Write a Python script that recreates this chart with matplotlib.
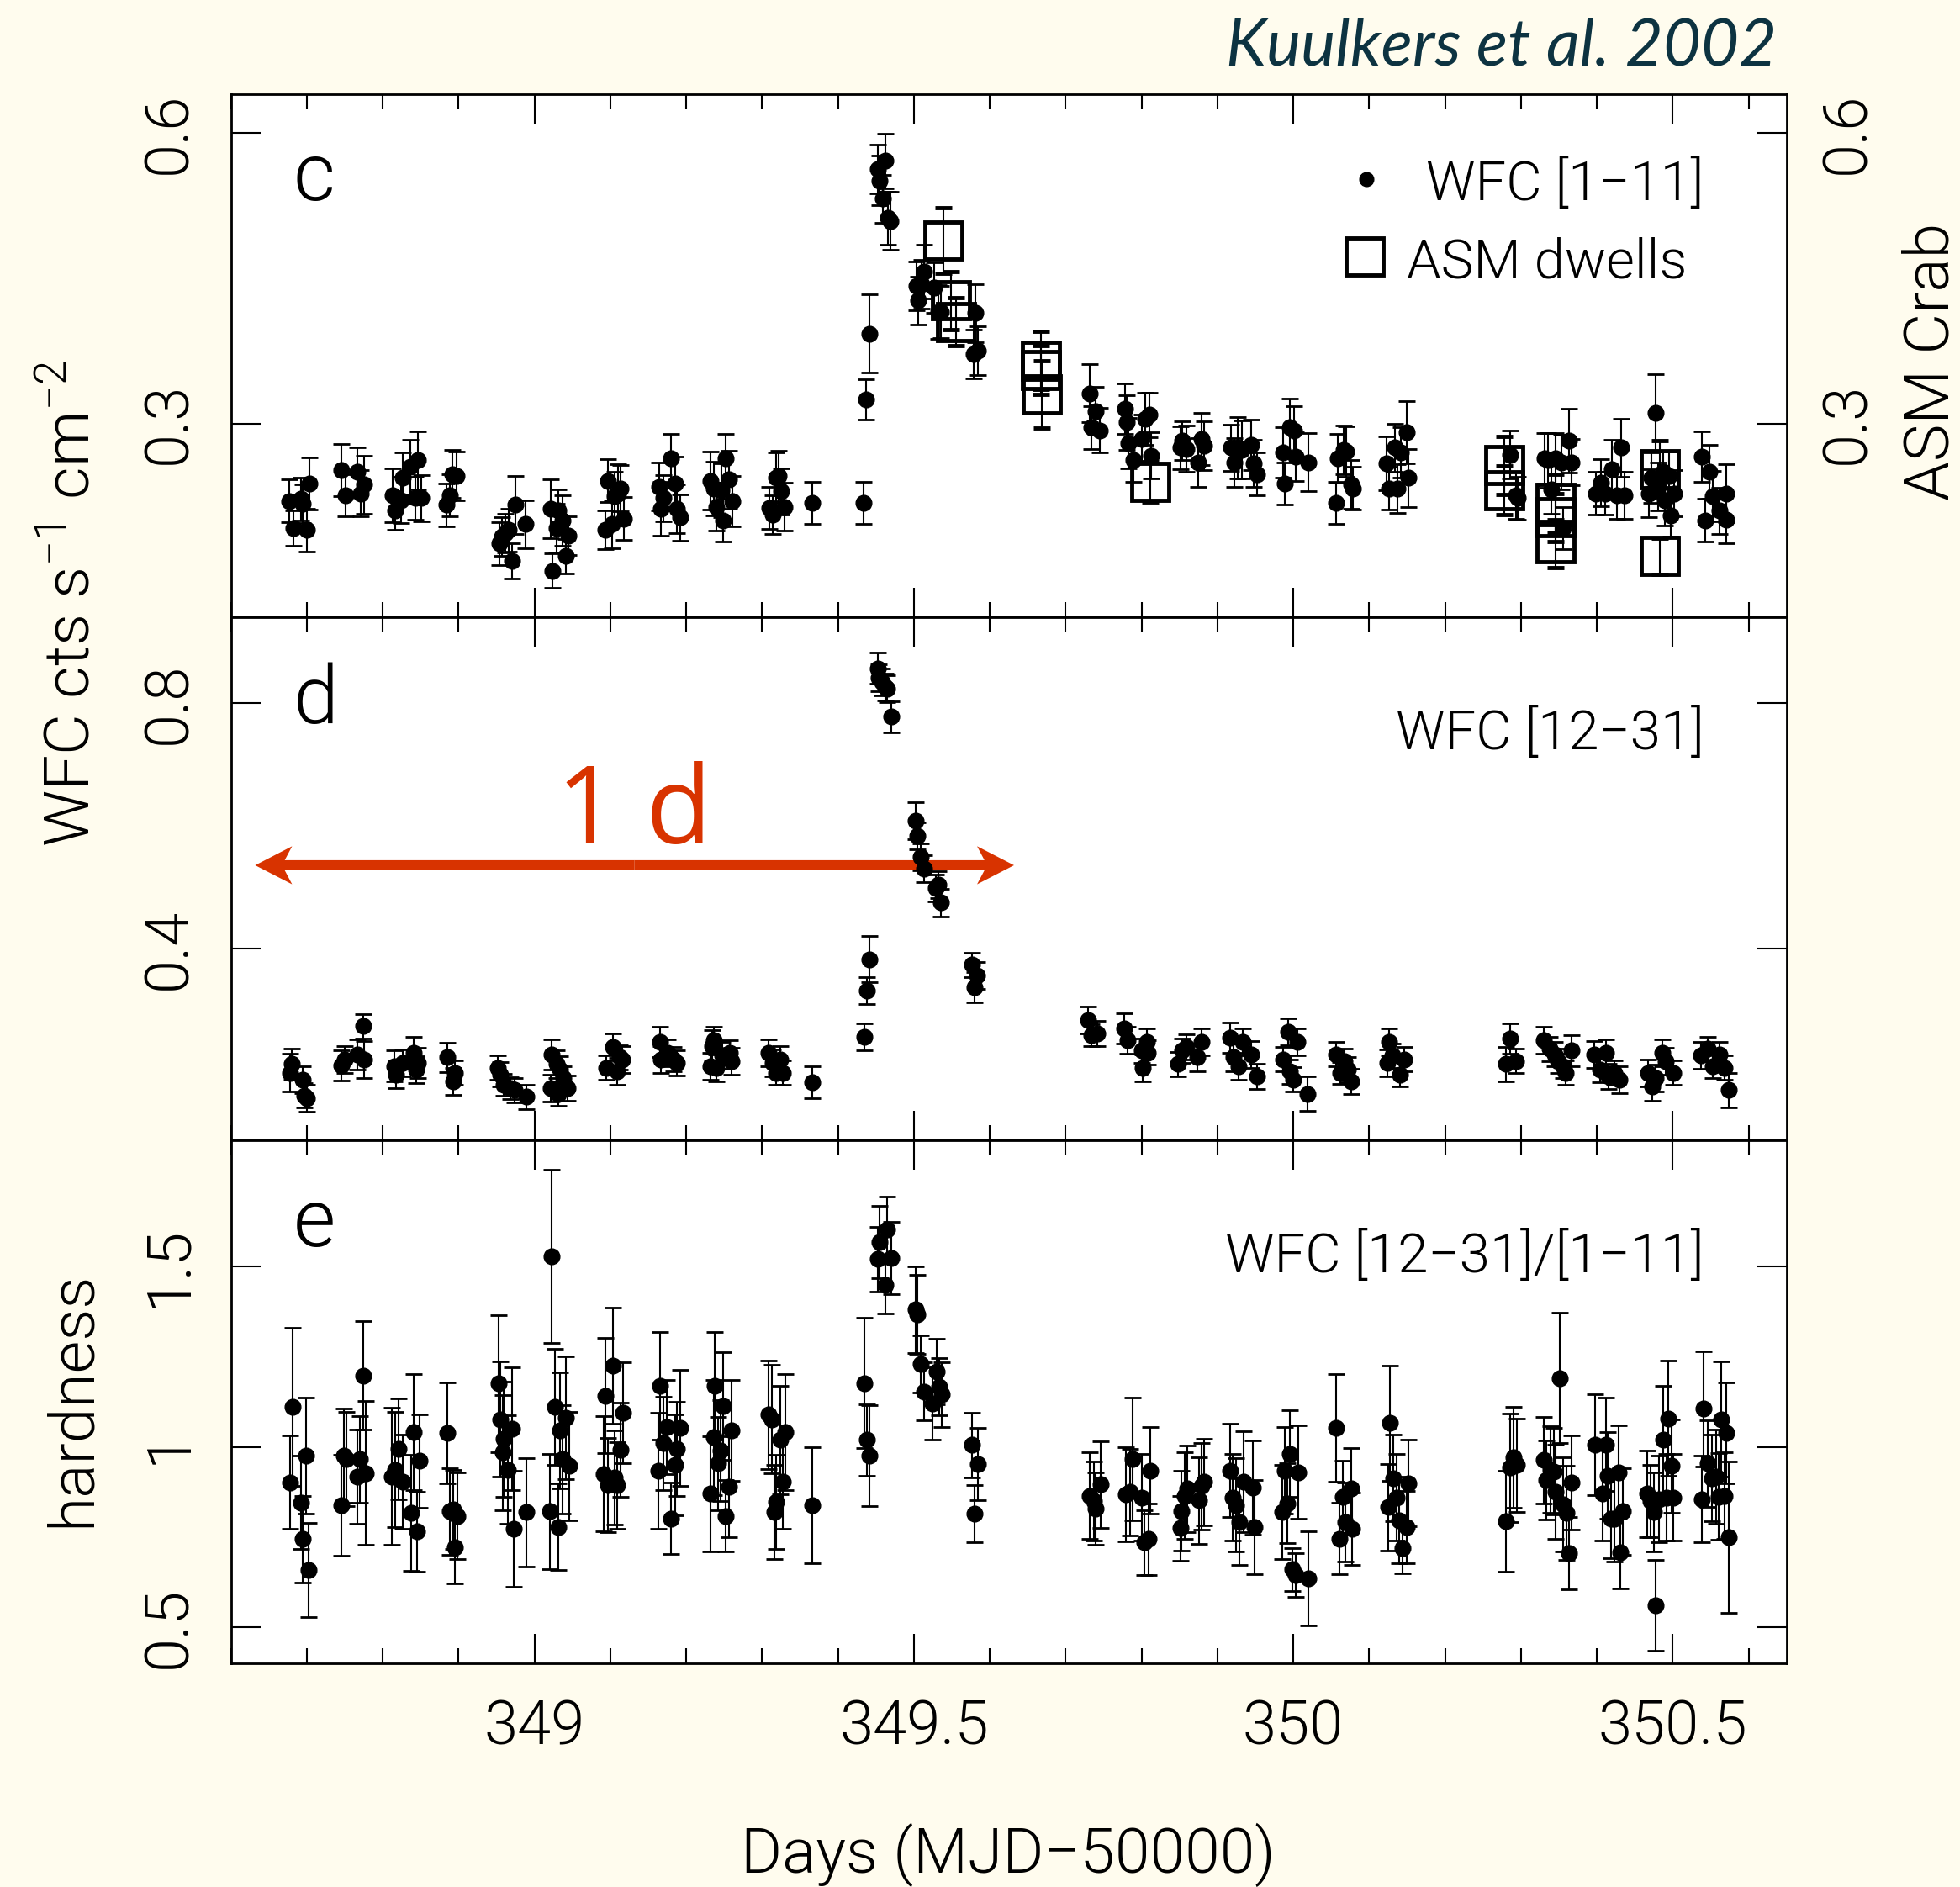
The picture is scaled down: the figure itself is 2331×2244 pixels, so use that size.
import numpy as np
import matplotlib
matplotlib.use("Agg")
import matplotlib.pyplot as plt
from matplotlib import font_manager as fm
from matplotlib.ticker import MultipleLocator, FuncFormatter

# ---------------------------------------------------------------- data
# WFC [1-11] light curve (cts/s/cm^2), panel c
t_soft = [348.677, 348.682, 348.692, 348.695, 348.700, 348.703,
          348.746, 348.751, 348.767, 348.771, 348.776,
          348.813, 348.817, 348.824, 348.827, 348.837, 348.843, 348.846, 348.851,
          348.884, 348.889, 348.892, 348.897,
          348.954, 348.957, 348.962, 348.966, 348.970, 348.975, 348.988,
          349.022, 349.024, 349.029, 349.032, 349.037, 349.042, 349.045,
          349.094, 349.097, 349.102, 349.106, 349.110, 349.113, 349.118,
          349.164, 349.167, 349.170, 349.180, 349.185, 349.188, 349.192,
          349.232, 349.236, 349.240, 349.246, 349.249, 349.252, 349.256, 349.261,
          349.310, 349.314, 349.318, 349.322, 349.325, 349.330,
          349.366,
          349.434, 349.437, 349.442,
          349.452, 349.455, 349.459, 349.463, 349.466, 349.469,
          349.503, 349.506, 349.510, 349.514, 349.527, 349.532, 349.536,
          349.579, 349.581, 349.584,
          349.732, 349.734, 349.740, 349.745,
          349.778, 349.781, 349.783, 349.789, 349.801, 349.805, 349.810, 349.813,
          349.851, 349.854, 349.859, 349.875, 349.879, 349.883,
          349.918, 349.922, 349.927, 349.932, 349.945, 349.948, 349.952,
          349.987, 349.989, 349.996, 350.001, 350.003, 350.020,
          350.056, 350.059, 350.066, 350.070, 350.076, 350.079,
          350.123, 350.126, 350.134, 350.137, 350.142, 350.149, 350.152,
          350.286, 350.293, 350.296,
          350.331, 350.336, 350.340, 350.346, 350.353, 350.356, 350.363, 350.367,
          350.399, 350.406, 350.411, 350.420, 350.427, 350.432, 350.436,
          350.469, 350.472, 350.477, 350.481, 350.487, 350.490, 350.495, 350.497, 350.502,
          350.538, 350.543, 350.548, 350.553, 350.562, 350.570, 350.571]
f_soft = [0.220, 0.192, 0.222, 0.217, 0.190, 0.238,
          0.252, 0.226, 0.250, 0.228, 0.237,
          0.226, 0.210, 0.221, 0.244, 0.255, 0.223, 0.262, 0.223,
          0.216, 0.226, 0.248, 0.246,
          0.176, 0.183, 0.187, 0.190, 0.158, 0.216, 0.196,
          0.212, 0.148, 0.192, 0.210, 0.200, 0.163, 0.184,
          0.190, 0.241, 0.196, 0.225, 0.228, 0.233, 0.202,
          0.235, 0.212, 0.223, 0.264, 0.238, 0.212, 0.203,
          0.241, 0.233, 0.214, 0.231, 0.200, 0.264, 0.242, 0.220,
          0.213, 0.206, 0.244, 0.246, 0.230, 0.214,
          0.218,
          0.218, 0.325, 0.393,
          0.563, 0.551, 0.532, 0.571, 0.512, 0.509,
          0.442, 0.427, 0.444, 0.457, 0.440, 0.415, 0.415,
          0.372, 0.414, 0.375,
          0.331, 0.296, 0.313, 0.293,
          0.315, 0.301, 0.280, 0.262, 0.284, 0.305, 0.309, 0.267,
          0.275, 0.282, 0.274, 0.260, 0.284, 0.277,
          0.275, 0.260, 0.275, 0.273, 0.278, 0.259, 0.248,
          0.270, 0.238, 0.296, 0.293, 0.266, 0.260,
          0.218, 0.264, 0.273, 0.271, 0.237, 0.233,
          0.259, 0.233, 0.275, 0.233, 0.270, 0.291, 0.244,
          0.268, 0.226, 0.223,
          0.264, 0.262, 0.232, 0.264, 0.260, 0.192, 0.282, 0.260,
          0.228, 0.239, 0.228, 0.253, 0.226, 0.275, 0.226,
          0.228, 0.244, 0.311, 0.235, 0.250, 0.221, 0.246, 0.205, 0.228,
          0.266, 0.200, 0.250, 0.225, 0.210, 0.228, 0.201]
e_soft = [0.022, 0.018, 0.022, 0.020, 0.022, 0.027,
          0.027, 0.022, 0.025, 0.024, 0.030,
          0.028, 0.020, 0.024, 0.026, 0.028, 0.022, 0.030, 0.024,
          0.022, 0.022, 0.025, 0.025,
          0.022, 0.020, 0.020, 0.022, 0.018, 0.030, 0.025,
          0.030, 0.018, 0.025, 0.022, 0.026, 0.018, 0.020,
          0.020, 0.022, 0.025, 0.025, 0.030, 0.024, 0.022,
          0.025, 0.028, 0.024, 0.025, 0.028, 0.025, 0.024,
          0.030, 0.028, 0.025, 0.028, 0.022, 0.025, 0.030, 0.026,
          0.022, 0.020, 0.026, 0.026, 0.024, 0.025,
          0.022,
          0.022, 0.021, 0.040,
          0.025, 0.026, 0.025, 0.028, 0.027, 0.030,
          0.025, 0.025, 0.025, 0.028, 0.026, 0.028, 0.027,
          0.025, 0.030, 0.025,
          0.030, 0.022, 0.025, 0.023,
          0.026, 0.028, 0.026, 0.022, 0.025, 0.027, 0.023, 0.024,
          0.022, 0.020, 0.024, 0.025, 0.027, 0.025,
          0.024, 0.025, 0.032, 0.030, 0.026, 0.024, 0.022,
          0.026, 0.022, 0.030, 0.025, 0.025, 0.030,
          0.022, 0.025, 0.025, 0.026, 0.025, 0.022,
          0.028, 0.022, 0.025, 0.025, 0.026, 0.032, 0.030,
          0.025, 0.024, 0.022,
          0.026, 0.028, 0.025, 0.026, 0.028, 0.022, 0.033, 0.024,
          0.022, 0.024, 0.022, 0.030, 0.024, 0.030, 0.024,
          0.025, 0.026, 0.040, 0.025, 0.022, 0.026, 0.025, 0.022, 0.024,
          0.026, 0.022, 0.028, 0.026, 0.024, 0.030, 0.025]

# RXTE/ASM dwells (Crab units), panel c
t_asm = [349.539, 349.549, 349.556, 349.667, 349.667, 349.669, 349.812,
         350.278, 350.278, 350.346, 350.346, 350.346, 350.483, 350.483]
f_asm = [0.489, 0.427, 0.405, 0.365, 0.355, 0.330, 0.240,
         0.257, 0.231, 0.218, 0.203, 0.176, 0.253, 0.163]
e_asm = [0.034, 0.030, 0.025, 0.030, 0.025, 0.035, 0.021,
         0.030, 0.025, 0.030, 0.025, 0.025, 0.029, 0.019]

# WFC [12-31] light curve, panel d
t_hard = [348.678, 348.680, 348.695, 348.697, 348.700,
          348.746, 348.750, 348.767, 348.774, 348.776,
          348.815, 348.818, 348.826, 348.841, 348.844, 348.846,
          348.885, 348.893, 348.895,
          348.952, 348.955, 348.960, 348.968, 348.974, 348.989,
          349.022, 349.023, 349.029, 349.031, 349.034, 349.038, 349.044,
          349.095, 349.103, 349.109, 349.112, 349.116,
          349.165, 349.167, 349.175, 349.183, 349.188,
          349.232, 349.234, 349.237, 349.240, 349.247, 349.257, 349.260,
          349.309, 349.314, 349.318, 349.324, 349.327,
          349.366,
          349.435, 349.438, 349.442,
          349.452, 349.454, 349.458, 349.462, 349.465, 349.470,
          349.502, 349.505, 349.509, 349.513, 349.529, 349.532, 349.536,
          349.577, 349.580, 349.583,
          349.729, 349.734, 349.742,
          349.777, 349.782, 349.800, 349.802, 349.807, 349.808,
          349.848, 349.854, 349.859, 349.874, 349.879,
          349.917, 349.921, 349.928, 349.933, 349.944, 349.952,
          349.987, 349.993, 349.996, 350.000, 350.005, 350.019,
          350.056, 350.062, 350.067, 350.072, 350.076,
          350.124, 350.126, 350.131, 350.141, 350.146,
          350.280, 350.286, 350.293,
          350.330, 350.338, 350.344, 350.349, 350.356, 350.359, 350.367,
          350.397, 350.404, 350.412, 350.415, 350.423, 350.430,
          350.468, 350.473, 350.478, 350.486, 350.491, 350.501,
          350.537, 350.546, 350.553, 350.562, 350.568, 350.574]
f_hard = [0.198, 0.212, 0.187, 0.161, 0.156,
          0.210, 0.220, 0.228, 0.274, 0.220,
          0.209, 0.195, 0.214, 0.231, 0.203, 0.214,
          0.223, 0.184, 0.198,
          0.206, 0.195, 0.178, 0.173, 0.170, 0.159,
          0.173, 0.228, 0.212, 0.164, 0.203, 0.189, 0.173,
          0.206, 0.240, 0.200, 0.223, 0.220,
          0.248, 0.220, 0.231, 0.220, 0.214,
          0.209, 0.242, 0.251, 0.206, 0.226, 0.231, 0.217,
          0.231, 0.214, 0.198, 0.220, 0.198,
          0.182,
          0.256, 0.332, 0.383,
          0.857, 0.841, 0.835, 0.826, 0.823, 0.778,
          0.609, 0.584, 0.550, 0.530, 0.499, 0.505, 0.475,
          0.374, 0.337, 0.357,
          0.284, 0.259, 0.262,
          0.270, 0.251, 0.234, 0.206, 0.248, 0.231,
          0.212, 0.234, 0.240, 0.223, 0.248,
          0.255, 0.223, 0.209, 0.248, 0.228, 0.192,
          0.220, 0.265, 0.200, 0.187, 0.248, 0.164,
          0.228, 0.198, 0.217, 0.203, 0.184,
          0.214, 0.248, 0.226, 0.195, 0.220,
          0.212, 0.254, 0.217,
          0.251, 0.237, 0.228, 0.217, 0.209, 0.198, 0.234,
          0.228, 0.203, 0.231, 0.192, 0.198, 0.187,
          0.198, 0.175, 0.189, 0.231, 0.217, 0.198,
          0.226, 0.237, 0.209, 0.228, 0.206, 0.170]
e_hard = [0.031, 0.025, 0.022, 0.020, 0.022,
          0.025, 0.022, 0.025, 0.020, 0.030,
          0.025, 0.022, 0.022, 0.025, 0.022, 0.024,
          0.024, 0.022, 0.020,
          0.020, 0.020, 0.018, 0.018, 0.020, 0.020,
          0.022, 0.025, 0.022, 0.020, 0.022, 0.020, 0.020,
          0.020, 0.022, 0.022, 0.020, 0.022,
          0.025, 0.022, 0.022, 0.020, 0.020,
          0.022, 0.025, 0.022, 0.022, 0.022, 0.020, 0.022,
          0.022, 0.022, 0.020, 0.022, 0.020,
          0.026,
          0.022, 0.022, 0.038,
          0.025, 0.022, 0.022, 0.022, 0.022, 0.025,
          0.030, 0.022, 0.022, 0.022, 0.022, 0.022, 0.022,
          0.020, 0.025, 0.022,
          0.022, 0.018, 0.020,
          0.025, 0.022, 0.020, 0.022, 0.022, 0.020,
          0.020, 0.020, 0.020, 0.022, 0.022,
          0.025, 0.022, 0.022, 0.022, 0.022, 0.020,
          0.020, 0.022, 0.020, 0.020, 0.022, 0.028,
          0.020, 0.018, 0.020, 0.020, 0.020,
          0.022, 0.022, 0.020, 0.020, 0.020,
          0.028, 0.025, 0.020,
          0.022, 0.020, 0.020, 0.020, 0.020, 0.020, 0.025,
          0.022, 0.020, 0.022, 0.020, 0.020, 0.022,
          0.022, 0.022, 0.022, 0.022, 0.022, 0.020,
          0.022, 0.020, 0.020, 0.020, 0.020, 0.028]

# hardness ratio WFC [12-31]/[1-11], panel e
t_ratio = [348.678, 348.681, 348.692, 348.695, 348.699, 348.702,
           348.746, 348.749, 348.752, 348.767, 348.770, 348.774, 348.778,
           348.812, 348.817, 348.821, 348.826, 348.838, 348.841, 348.845, 348.849,
           348.885, 348.888, 348.893, 348.895, 348.899,
           348.953, 348.955, 348.958, 348.960, 348.965, 348.970, 348.973, 348.989,
           349.020, 349.023, 349.027, 349.031, 349.034, 349.037, 349.042, 349.046,
           349.091, 349.094, 349.097, 349.103, 349.106, 349.109, 349.113, 349.117,
           349.163, 349.166, 349.170, 349.174, 349.180, 349.185, 349.188, 349.192,
           349.232, 349.236, 349.238, 349.242, 349.245, 349.249, 349.252, 349.256, 349.260,
           349.309, 349.313, 349.316, 349.319, 349.324, 349.327, 349.331,
           349.366,
           349.435, 349.438, 349.442,
           349.452, 349.455, 349.462, 349.465, 349.470,
           349.502, 349.505, 349.509, 349.513, 349.525, 349.530, 349.533, 349.537,
           349.577, 349.580, 349.584,
           349.732, 349.737, 349.740, 349.746,
           349.779, 349.785, 349.788, 349.800, 349.804, 349.809, 349.812,
           349.851, 349.853, 349.857, 349.860, 349.876, 349.879, 349.883,
           349.917, 349.920, 349.925, 349.929, 349.934, 349.947, 349.949,
           349.985, 349.989, 349.992, 349.996, 349.999, 350.003, 350.007, 350.020,
           350.056, 350.061, 350.065, 350.069, 350.076, 350.078,
           350.125, 350.127, 350.132, 350.136, 350.140, 350.144, 350.149, 350.152,
           350.280, 350.286, 350.290, 350.295,
           350.330, 350.333, 350.339, 350.343, 350.346, 350.351, 350.356, 350.360, 350.363, 350.367,
           350.398, 350.408, 350.412, 350.414, 350.419, 350.423, 350.429, 350.431, 350.434,
           350.466, 350.471, 350.475, 350.478, 350.482, 350.487, 350.492, 350.494, 350.499, 350.501,
           350.538, 350.541, 350.546, 350.552, 350.557, 350.561, 350.564, 350.568, 350.570, 350.574]
r_ratio = [0.902, 1.111, 0.846, 0.744, 0.976, 0.659,
           0.838, 0.976, 0.966, 0.918, 0.966, 1.198, 0.928,
           0.918, 0.937, 0.995, 0.904, 0.817, 1.041, 0.765, 0.961,
           1.039, 0.821, 0.826, 0.722, 0.809,
           1.176, 1.077, 0.984, 1.022, 0.937, 1.050, 0.773, 0.819,
           0.821, 1.529, 1.111, 0.778, 1.046, 0.966, 1.080, 0.947,
           0.925, 1.142, 0.894, 1.225, 0.915, 0.894, 0.992, 1.094,
           0.934, 1.169, 1.010, 1.055, 0.802, 0.950, 0.995, 1.053,
           0.870, 1.026, 1.169, 0.954, 0.990, 1.113, 0.809, 0.889, 1.045,
           1.089, 1.077, 0.819, 0.847, 1.019, 0.903, 1.041,
           0.838,
           1.177, 1.019, 0.976,
           1.521, 1.568, 1.449, 1.603, 1.524,
           1.381, 1.367, 1.230, 1.154, 1.121, 1.209, 1.167, 1.145,
           1.005, 0.815, 0.952,
           0.865, 0.850, 0.829, 0.896,
           0.868, 0.875, 0.966, 0.860, 0.735, 0.744, 0.934,
           0.775, 0.823, 0.865, 0.884, 0.852, 0.891, 0.903,
           0.935, 0.860, 0.839, 0.792, 0.903, 0.887, 0.778,
           0.820, 0.935, 0.844, 0.981, 0.660, 0.645, 0.930, 0.636,
           1.053, 0.746, 0.862, 0.791, 0.886, 0.773,
           0.833, 1.066, 0.913, 0.860, 0.797, 0.720, 0.778, 0.900,
           0.795, 0.942, 0.971, 0.949,
           0.963, 0.908, 0.937, 0.932, 0.875, 1.191, 0.841, 0.817, 0.706, 0.901,
           1.007, 0.870, 1.007, 0.920, 0.802, 0.802, 0.930, 0.708, 0.821,
           0.870, 0.850, 0.819, 0.561, 0.855, 1.019, 0.860, 1.079, 0.947, 0.860,
           0.855, 1.106, 0.954, 0.913, 0.918, 0.862, 1.077, 0.865, 1.039, 0.749]
e_ratio = [0.13, 0.22, 0.13, 0.12, 0.16, 0.13,
           0.14, 0.13, 0.13, 0.13, 0.12, 0.15, 0.20,
           0.19, 0.16, 0.14, 0.13, 0.16, 0.16, 0.11, 0.13,
           0.14, 0.12, 0.11, 0.10, 0.12,
           0.19, 0.16, 0.16, 0.16, 0.15, 0.17, 0.16, 0.15,
           0.16, 0.24, 0.16, 0.12, 0.16, 0.15, 0.17, 0.15,
           0.16, 0.16, 0.13, 0.16, 0.13, 0.12, 0.13, 0.14,
           0.16, 0.15, 0.13, 0.13, 0.10, 0.14, 0.13, 0.16,
           0.16, 0.16, 0.15, 0.13, 0.14, 0.15, 0.10, 0.14, 0.14,
           0.15, 0.15, 0.13, 0.13, 0.15, 0.13, 0.16,
           0.16,
           0.18, 0.10, 0.14,
           0.09, 0.10, 0.08, 0.09, 0.10,
           0.12, 0.11, 0.08, 0.08, 0.10, 0.09, 0.08, 0.09,
           0.09, 0.08, 0.10,
           0.12, 0.11, 0.10, 0.12,
           0.13, 0.12, 0.17, 0.12, 0.09, 0.10, 0.12,
           0.09, 0.11, 0.12, 0.12, 0.12, 0.12, 0.12,
           0.13, 0.12, 0.13, 0.12, 0.14, 0.13, 0.13,
           0.13, 0.12, 0.11, 0.12, 0.06, 0.06, 0.13, 0.13,
           0.15, 0.10, 0.10, 0.11, 0.11, 0.10,
           0.12, 0.16, 0.12, 0.12, 0.12, 0.07, 0.10, 0.12,
           0.14, 0.15, 0.14, 0.13,
           0.12, 0.11, 0.12, 0.12, 0.13, 0.18, 0.13, 0.13, 0.10, 0.13,
           0.14, 0.13, 0.13, 0.12, 0.11, 0.12, 0.13, 0.10, 0.12,
           0.12, 0.10, 0.11, 0.125, 0.12, 0.15, 0.12, 0.16, 0.13, 0.12,
           0.12, 0.16, 0.12, 0.12, 0.13, 0.12, 0.16, 0.12, 0.14, 0.21]

x_ticks = [349.0, 349.5, 350.0, 350.5]
y_ticks_soft = [0.3, 0.6]
y_ticks_hard = [0.4, 0.8]
y_ticks_ratio = [0.5, 1.0, 1.5]

# ---------------------------------------------------------------- fonts
def pick_light_font():
    weights = {}
    for f in fm.fontManager.ttflist:
        w = f.weight
        if isinstance(w, str):
            w = fm.weight_dict.get(w, 400)
        if f.style == "normal":
            weights.setdefault(f.name, set()).add(int(w))
    for fam in ["Roboto", "Lato", "Open Sans", "Inter", "Noto Sans"]:
        ws = weights.get(fam, set())
        for w in (300, 250, 350, 200):
            if w in ws:
                return fam, w
    return "DejaVu Sans", 400


LIGHT_FAM, LIGHT_W = pick_light_font()
FAM = [LIGHT_FAM, "DejaVu Sans"]
plt.rcParams["font.family"] = FAM
plt.rcParams["font.weight"] = LIGHT_W
plt.rcParams["mathtext.default"] = "regular"

BG = "#fffcee"
INK = "black"
RED = "#d83300"

TICK_FS = 52
LABEL_FS = 54
INSET_FS = 47
PANEL_FS = 70

# ---------------------------------------------------------------- figure
fig = plt.figure(figsize=(23.31, 22.44), dpi=100, facecolor=BG)
L, W, H = 0.1178, 0.7937, 0.27718
ax_c = fig.add_axes([L, 0.6729, W, H])
ax_d = fig.add_axes([L, 0.39572, W, H], sharex=ax_c)
ax_e = fig.add_axes([L, 0.11854, W, H], sharex=ax_c)

dot_kw = dict(fmt="o", ms=13.5, mfc=INK, mec=INK, ecolor=INK,
              elinewidth=1.5, capsize=7.0, capthick=2.0, zorder=3)

ax_c.errorbar(t_soft, f_soft, yerr=e_soft, **dot_kw)
ax_c.errorbar(t_asm, f_asm, yerr=e_asm, fmt="s", ms=31, mfc="none", mec=INK,
              mew=3.5, ecolor=INK, elinewidth=1.5, capsize=7.0, capthick=2.0,
              zorder=4)
ax_d.errorbar(t_hard, f_hard, yerr=e_hard, **dot_kw)
ax_e.errorbar(t_ratio, r_ratio, yerr=e_ratio, **dot_kw)

ax_c.set_ylim(0.10, 0.64)
ax_d.set_ylim(0.088, 0.94)
ax_e.set_ylim(0.40, 1.85)
ax_c.set_xlim(348.6, 350.65)

for ax, ticks in ((ax_c, y_ticks_soft), (ax_d, y_ticks_hard), (ax_e, y_ticks_ratio)):
    ax.set_facecolor("white")
    for sp in ax.spines.values():
        sp.set_linewidth(2.0)
        sp.set_color(INK)
    ax.set_yticks(ticks, labels=["%g" % v for v in ticks])
    ax.xaxis.set_major_locator(MultipleLocator(0.5))
    ax.xaxis.set_minor_locator(MultipleLocator(0.1))
    ax.xaxis.set_major_formatter(FuncFormatter(lambda v, p: "%g" % v))
    ax.tick_params(which="both", direction="in", top=True, bottom=True,
                   left=True, right=True, width=1.5, color=INK)
    ax.tick_params(which="major", length=25)
    ax.tick_params(which="minor", length=13)
    ax.tick_params(axis="y", labelrotation=90, labelsize=TICK_FS, pad=27.5)
    ax.tick_params(axis="x", labelsize=TICK_FS, pad=30)

ax_c.tick_params(axis="x", labelbottom=False)
ax_d.tick_params(axis="x", labelbottom=False)
ax_c.tick_params(axis="y", labelright=True)
for lab in ax_c.get_yticklabels() + ax_d.get_yticklabels() + ax_e.get_yticklabels():
    lab.set_va("center")

# panel letters
for ax, letter in ((ax_c, "c"), (ax_d, "d"), (ax_e, "e")):
    ax.text(0.040, 0.797, letter, transform=ax.transAxes, fontsize=PANEL_FS,
            ha="left", va="baseline", color=INK)

# legend of panel c
ax_c.plot([0.730], [0.838], "o", ms=12, color=INK, transform=ax_c.transAxes)
ax_c.plot([0.729], [0.690], "s", ms=31, mfc="none", mec=INK, mew=3.5,
          transform=ax_c.transAxes)
ax_c.text(0.947, 0.798, "WFC [1\u221211]", transform=ax_c.transAxes,
          fontsize=INSET_FS, ha="right", va="baseline", color=INK)
ax_c.text(0.756, 0.6495, "ASM dwells", transform=ax_c.transAxes,
          fontsize=INSET_FS, ha="left", va="baseline", color=INK)
ax_d.text(0.947, 0.748, "WFC [12\u221231]", transform=ax_d.transAxes,
          fontsize=INSET_FS, ha="right", va="baseline", color=INK)
ax_e.text(0.947, 0.748, "WFC [12\u221231]/[1\u221211]", transform=ax_e.transAxes,
          fontsize=INSET_FS, ha="right", va="baseline", color=INK)

# one-day double arrow in panel d
arrow_start = 348.632
one_day = 1.0
arrow_y = 0.536
mid = arrow_start + one_day / 2
for sign in (-1, 1):
    ax_d.arrow(mid, arrow_y, sign * one_day / 2, 0, width=0.0165,
               head_width=0.0620, head_length=0.0487, overhang=0.2,
               length_includes_head=True, color=RED, lw=0, zorder=1)
ax_d.text(mid, 0.568, "1 d", transform=ax_d.get_xaxis_transform(),
          fontsize=92, ha="center", va="baseline", color=RED,
          family=["Open Sans", "DejaVu Sans"], fontweight="normal")

# axis labels
fig.text(0.0459, 0.680, "WFC cts s$^{-1}$ cm$^{-2}$", rotation=90,
         rotation_mode="anchor", ha="center", va="baseline",
         fontsize=LABEL_FS, color=INK)
fig.text(0.0459, 0.2587, "hardness", rotation=90, rotation_mode="anchor",
         ha="center", va="baseline", fontsize=LABEL_FS, color=INK)
fig.text(0.9944, 0.8084, "ASM Crab", rotation=90, rotation_mode="anchor",
         ha="center", va="baseline", fontsize=LABEL_FS, color=INK)
fig.text(0.5144, 0.0077, "Days (MJD\u221250000)", ha="center", va="baseline",
         fontsize=LABEL_FS, color=INK)

# citation
fig.text(0.9065, 0.9656, "Kuulkers et al. 2002", ha="right", va="baseline",
         fontsize=56, style="italic", color="#0d3341",
         family=["Lato", "Liberation Sans", "DejaVu Sans"], fontweight="normal")

fig.savefig("out.png", dpi=100, facecolor=BG)
